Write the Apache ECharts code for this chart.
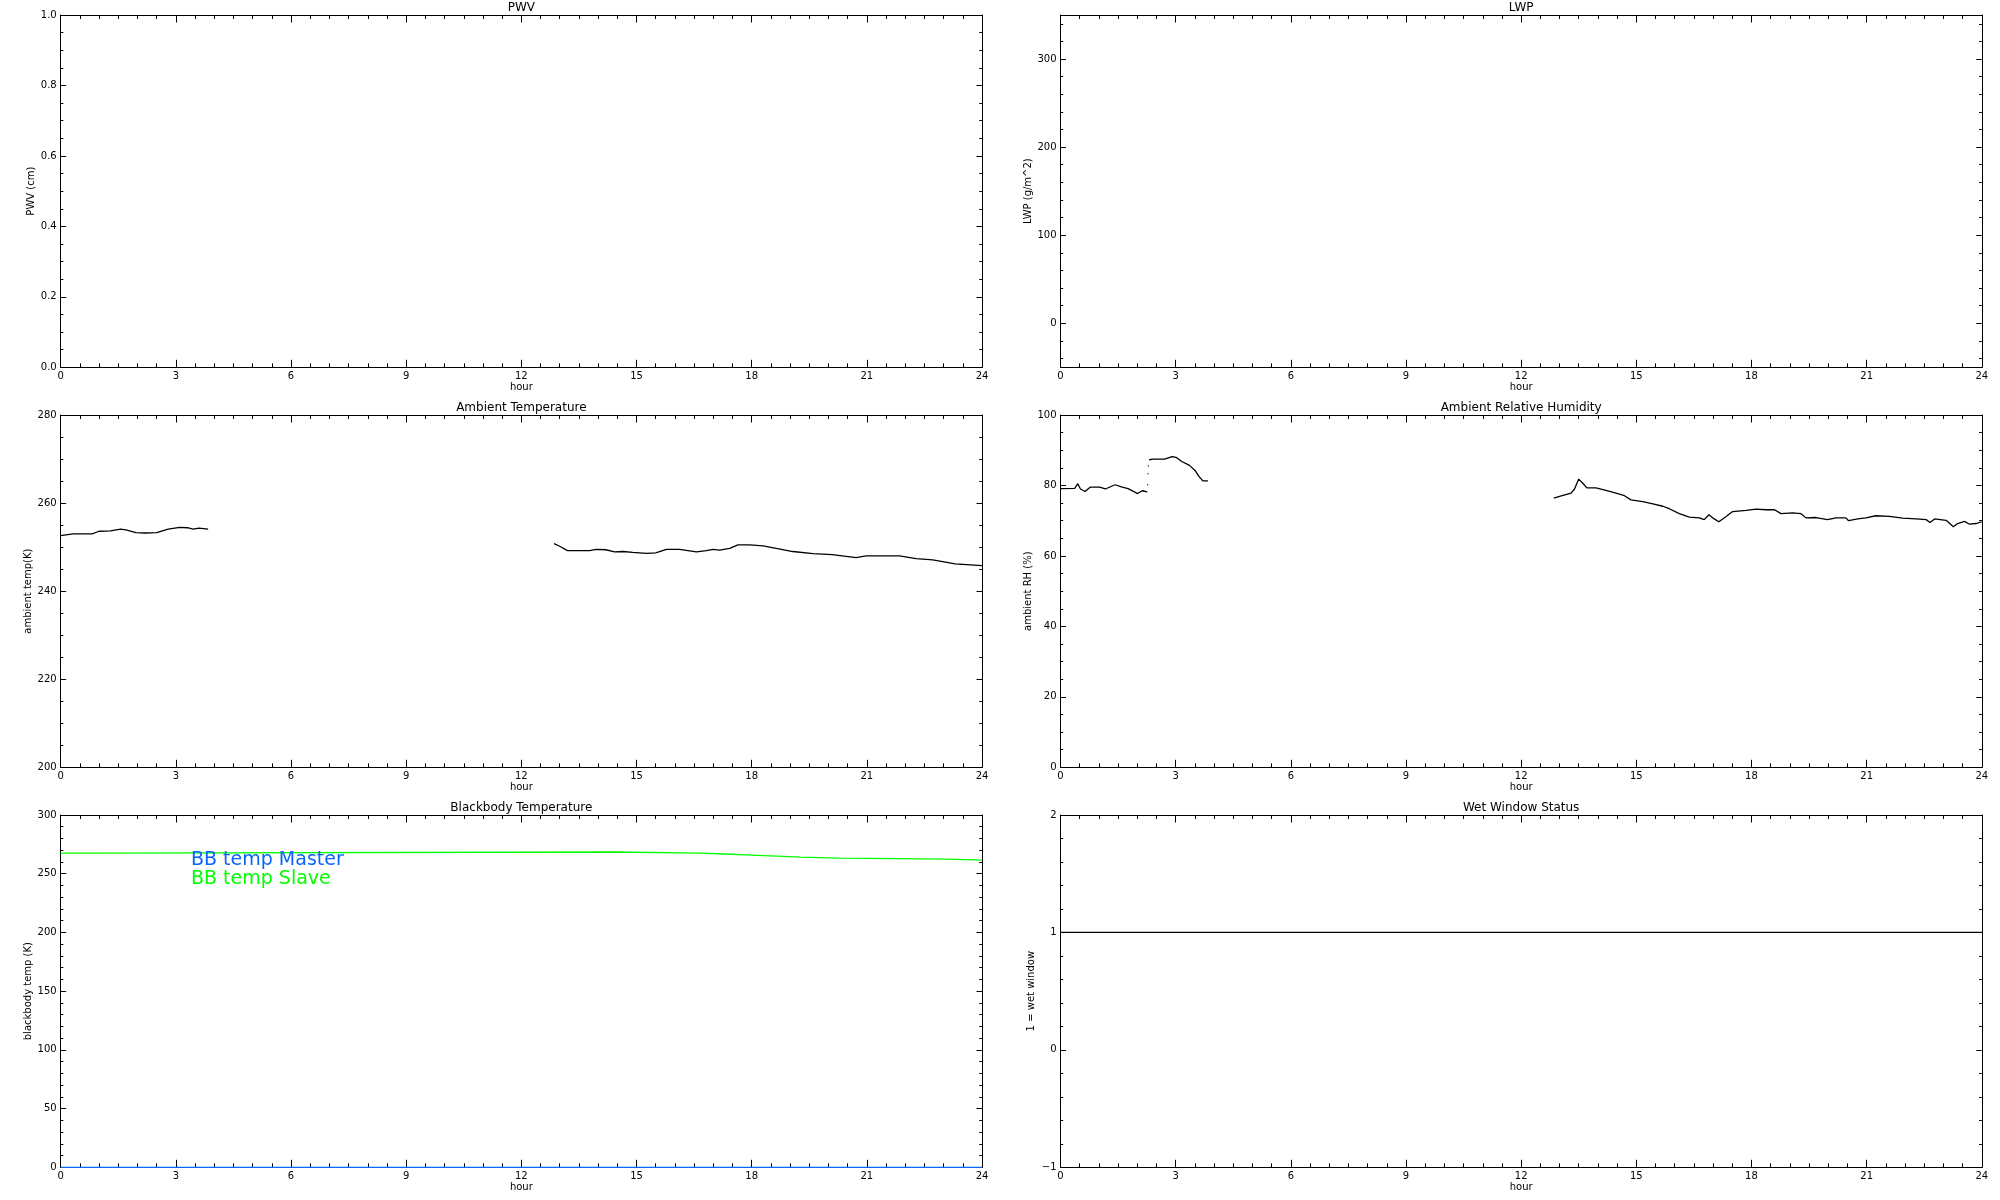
<!DOCTYPE html>
<html>
<head>
<meta charset="utf-8">
<title>Radiometer daily status</title>
<script src="https://cdn.jsdelivr.net/npm/echarts@6/dist/echarts.min.js"></script>
<style>
  html, body { margin: 0; padding: 0; background: #fff; }
  #chart { width: 2000px; height: 1200px; }
</style>
</head>
<body>
<div id="chart"></div>
<script>
// x axis: hour of day
const hourTicks = [0, 3, 6, 9, 12, 15, 18, 21, 24];

// y axis labels per panel
const pwvTicks = [0, 0.2, 0.4, 0.6, 0.8, 1.0];
const lwpTicks = [0, 100, 200, 300];
const tempTicks = [200, 220, 240, 260, 280];
const rhTicks = [0, 20, 40, 60, 80, 100];
const bbTicks = [0, 50, 100, 150, 200, 250, 300];
const wetTicks = [-1, 0, 1, 2];

// ambient temperature (K) - two stretches of data
const tempHoursA = [0, 0.32, 0.82, 1.0, 1.3, 1.56, 1.7, 1.96, 2.2, 2.5, 2.8, 3.1, 3.3, 3.45, 3.6, 3.84];
const tempValuesA = [252.6, 253.0, 253.0, 253.6, 253.7, 254.1, 253.9, 253.3, 253.2, 253.3, 254.1, 254.5, 254.4, 254.1, 254.3, 254.1];
const tempHoursB = [12.85, 13.0, 13.2, 13.78, 13.95, 14.2, 14.43, 14.65, 14.9, 15.26, 15.5, 15.78, 16.12, 16.34, 16.56, 16.82, 16.99, 17.16, 17.43, 17.64, 17.95, 18.3, 18.64, 19.07, 19.6, 20.1, 20.46, 20.72, 20.98, 21.85, 22.28, 22.72, 23.3, 24.0];
const tempValuesB = [250.8, 250.2, 249.2, 249.2, 249.5, 249.4, 248.9, 249.0, 248.8, 248.6, 248.7, 249.5, 249.5, 249.2, 248.9, 249.2, 249.5, 249.3, 249.7, 250.5, 250.5, 250.3, 249.7, 249.0, 248.5, 248.3, 247.9, 247.6, 248.0, 248.0, 247.4, 247.1, 246.2, 245.8];

// ambient relative humidity (%)
const rhHoursA = [0, 0.37, 0.45, 0.52, 0.64, 0.77, 1.02, 1.17, 1.42, 1.61, 1.76, 2.01, 2.13, 2.26];
const rhValuesA = [79.1, 79.2, 80.5, 79.0, 78.3, 79.5, 79.5, 79.0, 80.2, 79.5, 79.1, 77.7, 78.5, 78.2];
const rhJumpHours = [2.27, 2.28, 2.29];
const rhJumpValues = [80.2, 83.3, 85.5];
const rhHoursB = [2.31, 2.41, 2.71, 2.91, 3.01, 3.16, 3.36, 3.51, 3.61, 3.71, 3.84];
const rhValuesB = [87.3, 87.5, 87.5, 88.2, 88.0, 86.8, 85.7, 84.2, 82.5, 81.3, 81.3];
const rhHoursC = [12.85, 13.0, 13.3, 13.39, 13.5, 13.6, 13.71, 13.95, 14.21, 14.47, 14.69, 14.86, 15.17, 15.43, 15.69, 15.86, 16.12, 16.38, 16.64, 16.77, 16.89, 17.03, 17.15, 17.34, 17.51, 17.86, 18.12, 18.38, 18.6, 18.77, 19.07, 19.29, 19.42, 19.68, 19.98, 20.2, 20.46, 20.53, 20.77, 20.98, 21.24, 21.59, 21.94, 22.29, 22.55, 22.65, 22.77, 23.07, 23.26, 23.37, 23.55, 23.68, 23.85, 24.0];
const rhValuesC = [76.4, 76.9, 77.8, 79.0, 81.8, 80.7, 79.3, 79.3, 78.6, 77.8, 77.1, 75.9, 75.4, 74.8, 74.1, 73.4, 72.0, 71.0, 70.8, 70.3, 71.7, 70.5, 69.7, 71.2, 72.6, 72.9, 73.3, 73.1, 73.1, 72.0, 72.2, 72.0, 70.8, 70.9, 70.3, 70.8, 70.8, 70.0, 70.5, 70.8, 71.4, 71.2, 70.7, 70.5, 70.3, 69.5, 70.5, 70.1, 68.3, 69.2, 69.8, 69.0, 69.2, 69.7];

// blackbody temperature (K), slave holds each value until the next hour listed
const bbHours = [0, 0.92, 14.44, 16.66, 17.31, 18.0, 18.66, 19.26, 20.28, 23.1, 24];
const bbSlave = [267.6, 268.5, 267.6, 266.8, 265.9, 265.0, 264.1, 263.2, 262.4, 261.5, 261.5];
const bbMasterHours = [0, 24];
const bbMaster = [0, 0];

// wet window flag
const wetHours = [0, 24];
const wetValues = [1, 1];

const FONT = 'DejaVu Sans';
const BLUE = '#0a64ff';
const GREEN = '#00ff00';

const pairs = (xs, ys) => xs.map((x, i) => [x, ys[i]]);

// minor ticks at multiples of step, skipping the labelled ones
function minorTicks(min, max, step, majors) {
  const out = [];
  for (let k = Math.ceil(min / step - 1e-9); k * step <= max + 1e-9; k++) {
    const v = Math.round(k * step * 1e6) / 1e6;
    if (!majors.some(m => Math.abs(m - v) < 1e-6)) out.push(v);
  }
  return out;
}

const panels = [
  { title: 'PWV', yName: 'PWV (cm)', left: 60.7, top: 15, min: 0, max: 1, ticks: pwvTicks, minor: 0.05, nameGap: 24, fmt: v => v.toFixed(1) },
  { title: 'LWP', yName: 'LWP (g/m^2)', left: 1060.5, top: 15, min: -50, max: 350, ticks: lwpTicks, minor: 20, nameGap: 27 },
  { title: 'Ambient Temperature', yName: 'ambient temp(K)', left: 60.7, top: 415, min: 200, max: 280, ticks: tempTicks, minor: 5, nameGap: 27 },
  { title: 'Ambient Relative Humidity', yName: 'ambient RH (%)', left: 1060.5, top: 415, min: 0, max: 100, ticks: rhTicks, minor: 5, nameGap: 27 },
  { title: 'Blackbody Temperature', yName: 'blackbody temp (K)', left: 60.7, top: 815, min: 0, max: 300, ticks: bbTicks, minor: 10, nameGap: 27 },
  { title: 'Wet Window Status', yName: '1 = wet window', left: 1060.5, top: 815, min: -1, max: 2, ticks: wetTicks, minor: 0.2, nameGap: 24, fmt: v => String(v).replace('-', '\u2212') }
];

const hourMinor = minorTicks(0, 24, 0.5, hourTicks);
const black = { color: '#000', width: 1 };

const grids = [], xAxes = [], yAxes = [];
panels.forEach((p, i) => {
  grids.push({ left: p.left, top: p.top, width: 921.3, height: 352.3 });
  const yMinor = minorTicks(p.min, p.max, p.minor, p.ticks);

  const xBase = { gridIndex: i, type: 'value', min: 0, max: 24, splitLine: { show: false } };
  xAxes.push(Object.assign({}, xBase, {
    position: 'bottom',
    axisLine: { onZero: false, lineStyle: black },
    axisTick: { inside: true, length: 7.5, customValues: hourTicks, lineStyle: black },
    axisLabel: { customValues: hourTicks, margin: 4, fontSize: 10, color: '#000', fontFamily: FONT },
    name: 'hour', nameLocation: 'middle', nameGap: 14,
    nameTextStyle: { fontSize: 10, color: '#000', fontFamily: FONT }
  }));
  xAxes.push(Object.assign({}, xBase, {
    position: 'bottom',
    axisLine: { show: false, onZero: false },
    axisTick: { inside: true, length: 4, customValues: hourMinor, lineStyle: black },
    axisLabel: { show: false }
  }));
  xAxes.push(Object.assign({}, xBase, {
    position: 'top',
    axisLine: { onZero: false, lineStyle: black },
    axisTick: { inside: true, length: 7.5, customValues: hourTicks, lineStyle: black },
    axisLabel: { show: false },
    name: p.title, nameLocation: 'middle', nameGap: 1.5,
    nameTextStyle: { fontSize: 12, color: '#000', fontFamily: FONT }
  }));
  xAxes.push(Object.assign({}, xBase, {
    position: 'top',
    axisLine: { show: false, onZero: false },
    axisTick: { inside: true, length: 4, customValues: hourMinor, lineStyle: black },
    axisLabel: { show: false }
  }));

  const yBase = { gridIndex: i, type: 'value', min: p.min, max: p.max, splitLine: { show: false } };
  yAxes.push(Object.assign({}, yBase, {
    position: 'left',
    axisLine: { onZero: false, lineStyle: black },
    axisTick: { inside: true, length: 5.5, customValues: p.ticks, lineStyle: black },
    axisLabel: { customValues: p.ticks, margin: 4, fontSize: 10, color: '#000', fontFamily: FONT, formatter: p.fmt || (v => String(v)) },
    name: p.yName, nameLocation: 'middle', nameGap: p.nameGap,
    nameTextStyle: { fontSize: 10, color: '#000', fontFamily: FONT }
  }));
  yAxes.push(Object.assign({}, yBase, {
    position: 'left',
    axisLine: { show: false, onZero: false },
    axisTick: { inside: true, length: 2.7, customValues: yMinor, lineStyle: black },
    axisLabel: { show: false }
  }));
  yAxes.push(Object.assign({}, yBase, {
    position: 'right',
    axisLine: { onZero: false, lineStyle: black },
    axisTick: { inside: true, length: 5.5, customValues: p.ticks, lineStyle: black },
    axisLabel: { show: false }
  }));
  yAxes.push(Object.assign({}, yBase, {
    position: 'right',
    axisLine: { show: false, onZero: false },
    axisTick: { inside: true, length: 2.7, customValues: yMinor, lineStyle: black },
    axisLabel: { show: false }
  }));
});

function line(panel, name, data, color, extra) {
  return Object.assign({
    type: 'line', name: name, xAxisIndex: panel * 4, yAxisIndex: panel * 4,
    data: data, showSymbol: false, symbol: 'none',
    lineStyle: { color: color, width: 1.3 }, itemStyle: { color: color },
    emphasis: { disabled: true }
  }, extra || {});
}

const series = [
  line(2, 'ambient temp', pairs(tempHoursA, tempValuesA), '#000'),
  line(2, 'ambient temp', pairs(tempHoursB, tempValuesB), '#000'),
  line(3, 'ambient RH', pairs(rhHoursA, rhValuesA), '#000'),
  {
    type: 'scatter', name: 'ambient RH', xAxisIndex: 12, yAxisIndex: 12,
    data: pairs(rhJumpHours, rhJumpValues), symbolSize: 1.5,
    itemStyle: { color: '#000' }, emphasis: { disabled: true }
  },
  line(3, 'ambient RH', pairs(rhHoursB, rhValuesB), '#000'),
  line(3, 'ambient RH', pairs(rhHoursC, rhValuesC), '#000'),
  line(4, 'BB temp Master', pairs(bbMasterHours, bbMaster), BLUE, { clip: false, z: 5 }),
  line(4, 'BB temp Slave', pairs(bbHours, bbSlave), GREEN, { step: 'end' }),
  line(5, 'wet window', pairs(wetHours, wetValues), '#000')
];

const chart = echarts.init(document.getElementById('chart'), null, { renderer: 'canvas' });
chart.setOption({
  backgroundColor: '#fff',
  animation: false,
  grid: grids,
  xAxis: xAxes,
  yAxis: yAxes,
  legend: {
    data: [
      { name: 'BB temp Master', textStyle: { color: BLUE } },
      { name: 'BB temp Slave', textStyle: { color: GREEN } }
    ],
    orient: 'vertical', left: 186, top: 850,
    icon: 'none', itemWidth: 0, itemHeight: 0, itemGap: 0, padding: 0,
    selectedMode: false,
    textStyle: { fontSize: 19, lineHeight: 19.5, fontFamily: FONT }
  },
  series: series
});
</script>
</body>
</html>
